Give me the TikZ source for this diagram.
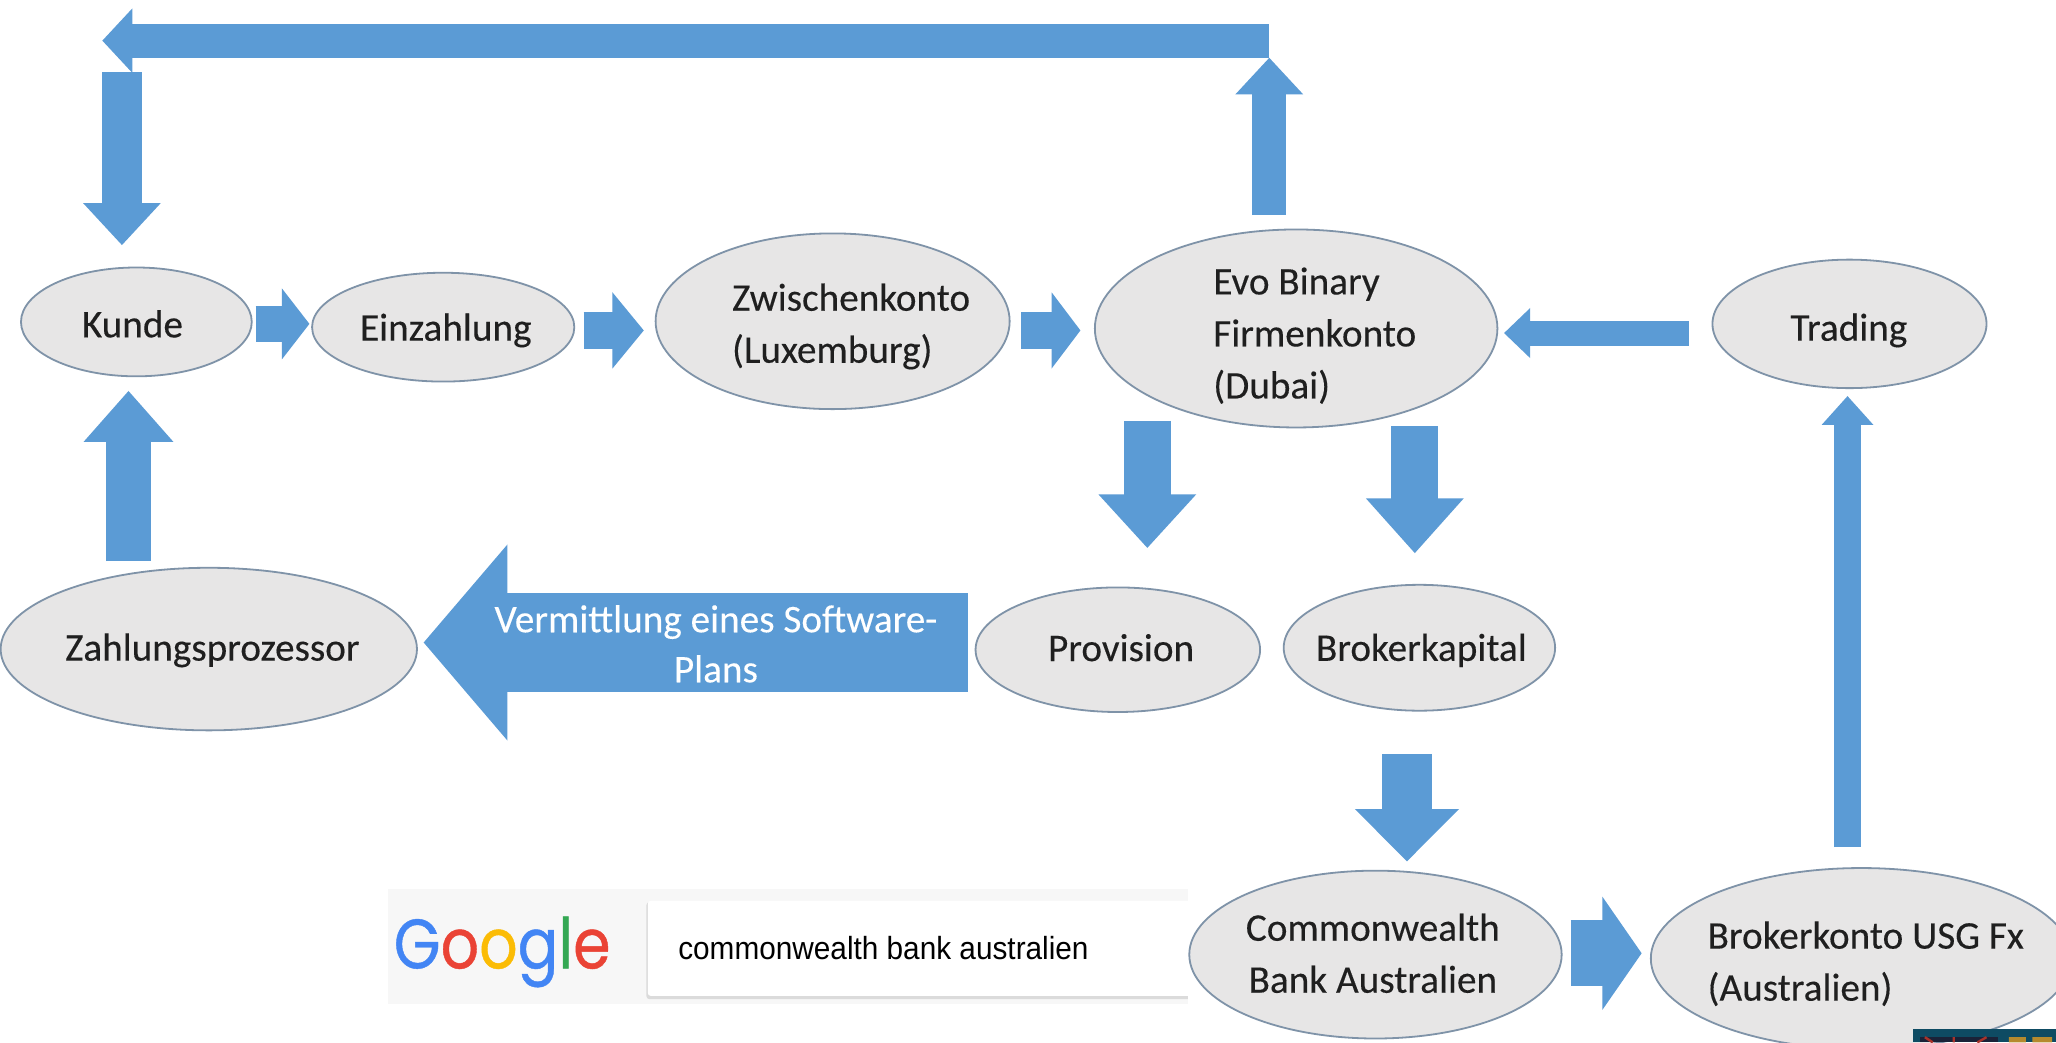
\documentclass[tikz,border=0pt]{standalone}
\usepackage{fontspec}
\setmainfont[FakeBold=0.25]{Carlito}
\newfontfamily\arialf[FakeStretch=0.93]{Liberation Sans}
\newfontfamily\logof[FakeStretch=0.86,FakeBold=0.6]{Poppins}
\usetikzlibrary{arrows.meta,shapes.geometric}
\definecolor{blockblue}{HTML}{5B9BD5}
\definecolor{ovalfill}{HTML}{E7E6E6}
\definecolor{ovaledge}{HTML}{7F93A8}
\definecolor{inktext}{HTML}{1F1F1F}
\definecolor{gblue}{HTML}{4285F4}
\definecolor{gred}{HTML}{EA4335}
\definecolor{gyellow}{HTML}{FBBC05}
\definecolor{ggreen}{HTML}{34A853}
\definecolor{thumbteal}{HTML}{0E4B63}
\definecolor{thumbdark}{HTML}{1A2238}
\definecolor{thumbred}{HTML}{A8322A}
\definecolor{thumbgold}{HTML}{B58A2E}
\tikzset{
  oval/.style={ellipse,draw=ovaledge,line width=0.9pt,fill=ovalfill,inner sep=0pt},
  lab/.style={text=inktext,font=\fontsize{19.6}{26}\selectfont,align=left,inner sep=0pt},
  conn/.style={draw=blockblue,line cap=butt},
}
% from, to, shaft width, head length, head width (all in picture units)
\newcommand\blockconn[5]{%
  \pgfmathsetmacro\hlenpt{#4*0.6555}%
  \pgfmathsetmacro\hwidpt{#5*0.6555}%
  \draw[conn,line width=#3*0.6555pt,-{Triangle[length=\hlenpt pt,width=\hwidpt pt]}] (#1) -- (#2);}
\newcommand\ovalnode[5]{\node[oval,minimum width={(#3-#2)*0.6555pt},minimum height={(#5-#4)*0.6555pt}] (#1) at ({(#2+#3)/2},{(#4+#5)/2}) {};}
\begin{document}
\begin{tikzpicture}[x=0.6555pt,y=-0.6555pt]
\useasboundingbox (0,0) rectangle (1568,795);
\clip (0,0) rectangle (1568,795);
\fill[white] (0,0) rectangle (1568,795);

% Google search strip
\fill[black!3] (296,678) rectangle (906,766);
\fill[black!14,rounded corners=1.5pt] (493,688) rectangle (910,762);
\fill[white,rounded corners=1.5pt] (494,687) rectangle (910,759.5);
\node[inner sep=0pt,anchor=west,font=\logof\fontsize{35}{35}\selectfont] (glogo) at (300,726)
  {\textcolor{gblue}{G}\textcolor{gred}{o}\textcolor{gyellow}{o}\textcolor{gblue}{g}\textcolor{ggreen}{l}\textcolor{gred}{e}};
\node[inner sep=0pt,anchor=west,text=black,font=\arialf\fontsize{16}{20}\selectfont] (gquery) at (517,723) {commonwealth bank australien};
\fill[white] (906,670) rectangle (912,770);

% Ovals
\ovalnode{kunde}{16}{192}{204}{287}
\ovalnode{einz}{238}{438}{208}{291}
\ovalnode{zwisch}{500}{770}{178}{312}
\ovalnode{evo}{835}{1142}{175}{326}
\ovalnode{trading}{1306}{1515}{198}{296}
\ovalnode{zahl}{0.5}{318}{433}{557}
\ovalnode{prov}{744}{961}{448}{543}
\ovalnode{brokerk}{979}{1186}{446}{542}
\ovalnode{common}{907}{1191}{664}{792}
\ovalnode{konto}{1259}{1580}{662}{800}

% Oval texts
\node[lab] (tkunde) at (101,247) {Kunde};
\node[lab] (teinz) at (340,252) {Einzahlung};
\node[lab,anchor=west] (tzw) at (558,249) {Zwischenkonto\\(Luxemburg)};
\node[lab,anchor=west] (tevo) at (925,256) {Evo Binary\\Firmenkonto\\(Dubai)};
\node[lab] (ttrad) at (1410,252) {Trading};
\node[lab] (tzahl) at (162,496) {Zahlungsprozessor};
\node[lab] (tprov) at (855,494) {Provision};
\node[lab] (tbrok) at (1084,496) {Brokerkapital};
\node[lab,align=center] (tcom) at (1047,727) {Commonwealth\\Bank Australien};
\node[lab,anchor=west] (tkon) at (1302,735) {Brokerkonto USG Fx\\(Australien)};

% Connector ends
\coordinate (topcorner) at (968,31);
\coordinate (topend) at (78,31);
\coordinate (evoup) at (968,164);
\coordinate (evouptip) at (968,44);
\coordinate (leftstart) at (93,55);
\coordinate (kundein) at (93,187);
\coordinate (kundeout) at (195,247);
\coordinate (einzin) at (236,247);
\coordinate (einzout) at (445,252);
\coordinate (zwin) at (491,252);
\coordinate (zwout) at (779,252);
\coordinate (evoin) at (824,252);
\coordinate (tradout) at (1288,254);
\coordinate (evoin2) at (1147,254);
\coordinate (kontoout) at (1409,646);
\coordinate (tradin) at (1409,302);
\coordinate (zahlout) at (98,428);
\coordinate (kundein2) at (98,298);
\coordinate (evoout1) at (875,321);
\coordinate (provin) at (875,418);
\coordinate (evoout2) at (1079,325);
\coordinate (brokin) at (1079,422);
\coordinate (brokout) at (1073,575);
\coordinate (comin) at (1073,657);
\coordinate (comout) at (1198,727);
\coordinate (konin) at (1252,727);
\coordinate (provout) at (738,490);
\coordinate (zahlin) at (323,490);

% Block connectors
\blockconn{topcorner}{topend}{26}{23}{48}
\blockconn{evoup}{evouptip}{26}{28}{50}
\blockconn{leftstart}{kundein}{30}{32}{57}
\blockconn{kundeout}{einzin}{27}{21}{53}
\blockconn{einzout}{zwin}{28}{24}{57}
\blockconn{zwout}{evoin}{28}{22}{57}
\blockconn{tradout}{evoin2}{19}{20}{37}
\blockconn{kontoout}{tradin}{20}{22}{38}
\blockconn{zahlout}{kundein2}{34}{39}{66}
\blockconn{evoout1}{provin}{36}{41}{72}
\blockconn{evoout2}{brokin}{36}{42}{72}
\blockconn{brokout}{comin}{38}{40}{77}
\blockconn{comout}{konin}{50}{30}{85}
\blockconn{provout}{zahlin}{75}{64}{146}

\node[text=white,font=\fontsize{19.6}{25}\selectfont,align=center,inner sep=0pt] (tverm) at (546,491) {Vermittlung eines Software-\\Plans};

% Corner thumbnail
\fill[thumbteal] (1459,785) rectangle (1568,795);
\fill[thumbdark] (1464,791) rectangle (1524,795);
\draw[thumbred,line width=1.2pt] (1468,791) -- (1474,795) (1490,791) -- (1490,795) (1515,791) -- (1508,795);
\fill[thumbgold] (1532,791) rectangle (1545,795) (1550,791) rectangle (1565,795);
\end{tikzpicture}
\end{document}
